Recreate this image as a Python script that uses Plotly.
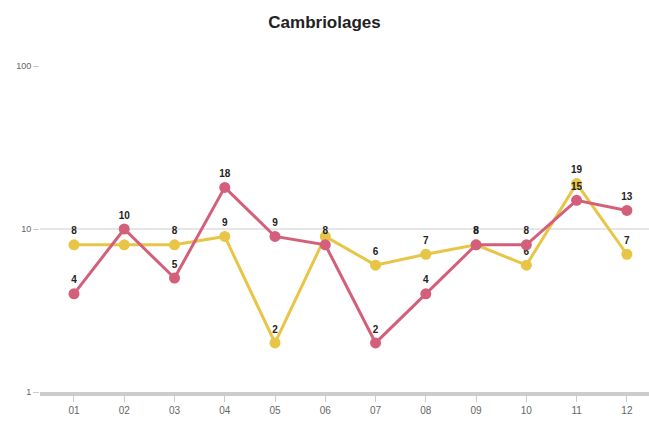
import plotly.graph_objects as go

months = ["01", "02", "03", "04", "05", "06", "07", "08", "09", "10", "11", "12"]
serie_jaune = [8, 8, 8, 9, 2, 9, 6, 7, 8, 6, 19, 7]
serie_rouge = [4, 10, 5, 18, 9, 8, 2, 4, 8, 8, 15, 13]
# labels hidden where they collide (as in the reference)
hidden_jaune = ["06"]

yellow = "#e8c547"
red = "#d45f7b"

labels_jaune = ["" if m in hidden_jaune else f"<b>{v}</b>" for m, v in zip(months, serie_jaune)]
labels_rouge = [f"<b>{v}</b>" for v in serie_rouge]

fig = go.Figure()
fig.add_trace(go.Scatter(
    x=months, y=serie_jaune, mode="lines+markers+text",
    line=dict(color=yellow, width=3), marker=dict(color=yellow, size=11),
    text=labels_jaune, textposition="top center",
    textfont=dict(family="Arial, Liberation Sans", size=10, color="#222"),
    showlegend=False, cliponaxis=False))
fig.add_trace(go.Scatter(
    x=months, y=serie_rouge, mode="lines+markers+text",
    line=dict(color=red, width=3), marker=dict(color=red, size=11),
    text=labels_rouge, textposition="top center",
    textfont=dict(family="Arial, Liberation Sans", size=10, color="#222"),
    showlegend=False, cliponaxis=False))

fig.update_layout(
    width=649, height=424,
    margin=dict(l=40, r=0, t=66, b=32),
    paper_bgcolor="white", plot_bgcolor="white",
    title=dict(text="<b>Cambriolages</b>", x=0.5, xanchor="center", y=0.948, yanchor="middle",
               font=dict(family="Arial, Liberation Sans", size=17, color="#222")),
    font=dict(family="Arial, Liberation Sans", size=10, color="#666"),
    xaxis=dict(type="category", range=[-0.676, 11.44], showgrid=False,
               showline=True, linecolor="#cccccc", linewidth=4,
               ticks="outside", ticklen=6, tickcolor="#cccccc", tickwidth=1,
               tickfont=dict(size=10, color="#666")),
    yaxis=dict(type="log", range=[0, 2], tickvals=[1, 10, 100], ticktext=["1", "10", "100"],
               showgrid=True, gridcolor="#e6e6e6", gridwidth=2, zeroline=False,
               ticks="outside", ticklen=6, tickcolor="#cccccc",
               tickfont=dict(size=9, color="#666")),
)

fig.write_html("out.html")
